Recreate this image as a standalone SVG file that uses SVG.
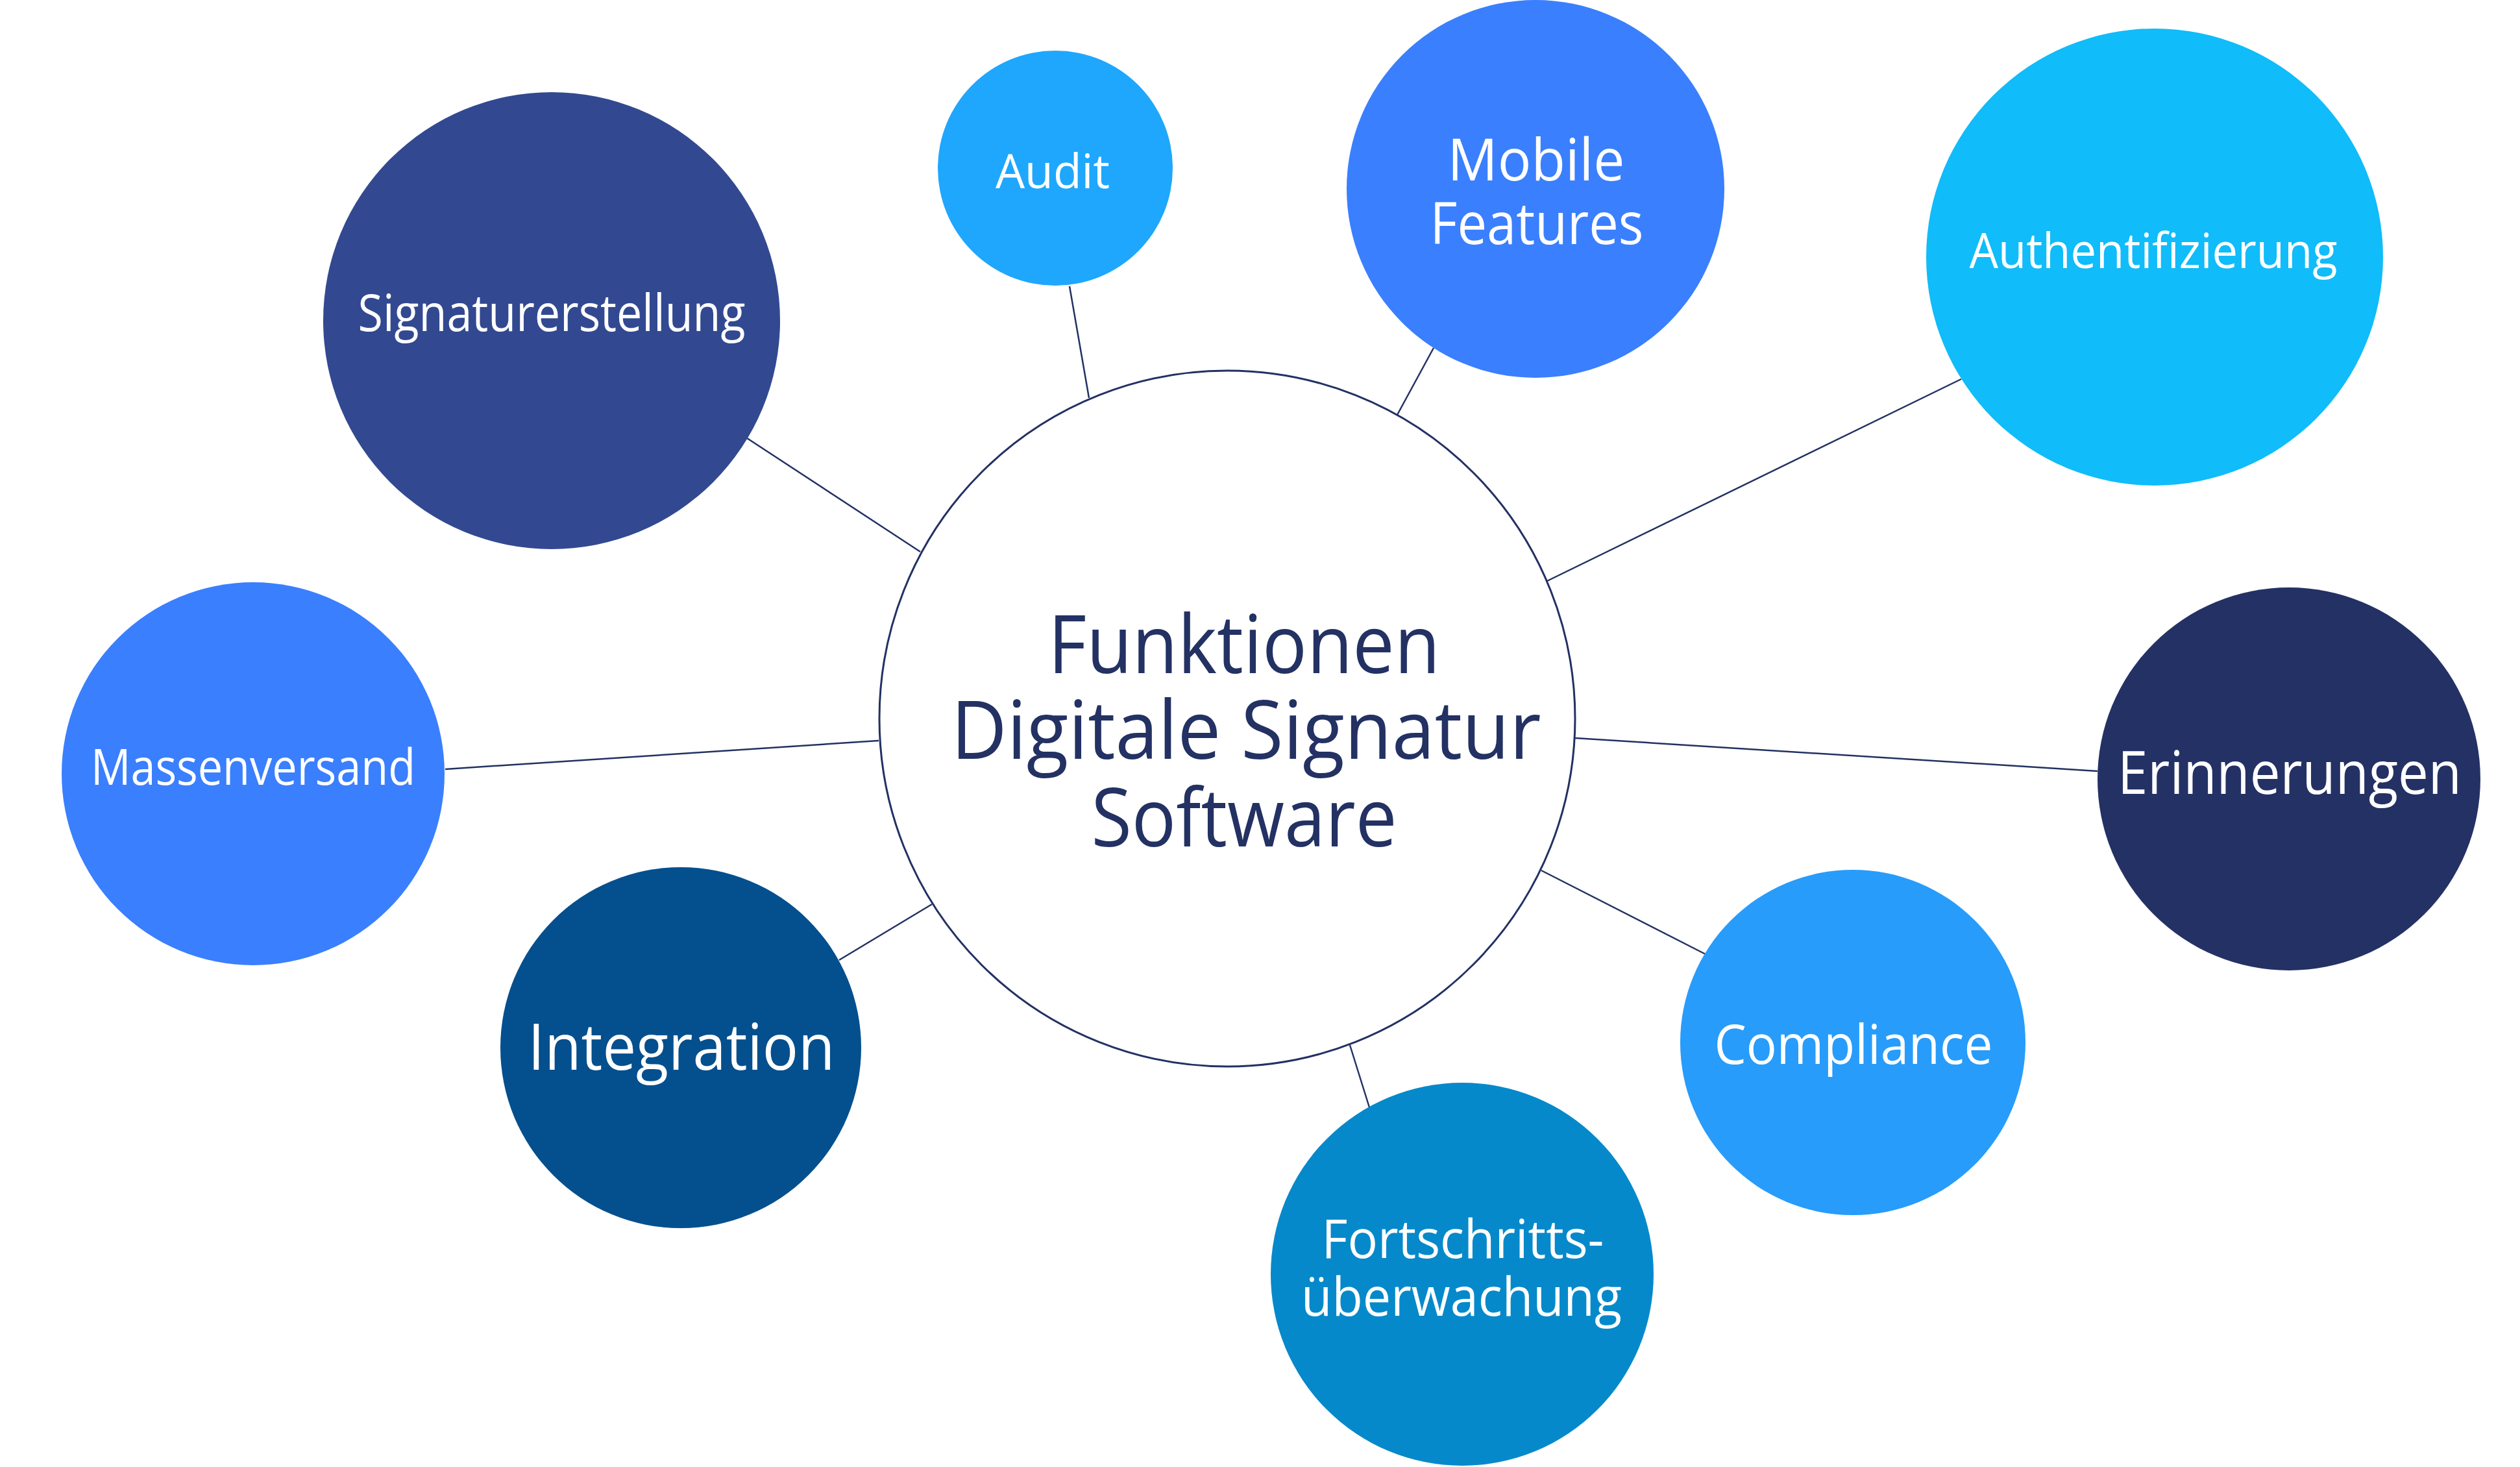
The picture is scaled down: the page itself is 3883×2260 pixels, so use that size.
<svg xmlns="http://www.w3.org/2000/svg" width="3883" height="2260" viewBox="0 0 3883 2260">
<style>
.lbl{font-family:"Open Sans","Noto Sans",sans-serif;fill:#ffffff;text-anchor:middle}
.main{font-family:"Open Sans","Noto Sans",sans-serif;fill:#233163;text-anchor:middle}
.conn line{stroke:#233163;stroke-width:2.5}
</style>
<rect width="3883" height="2260" fill="#ffffff"/>
<g id="connectors" class="conn">
<line x1="1418" y1="850" x2="1151" y2="675"/>
<line x1="1678" y1="613" x2="1648" y2="441"/>
<line x1="2153" y1="639" x2="2209" y2="536"/>
<line x1="2384" y1="895" x2="3022" y2="584"/>
<line x1="1354" y1="1141" x2="686" y2="1185"/>
<line x1="2427" y1="1137" x2="3232" y2="1188"/>
<line x1="1436" y1="1393" x2="1293" y2="1479"/>
<line x1="2375" y1="1341" x2="2628" y2="1470"/>
<line x1="2080" y1="1610" x2="2110" y2="1706"/>
</g>
<g id="center">
<circle cx="1891" cy="1107" r="536" fill="#ffffff" stroke="#233163" stroke-width="3"/>
<text class="main" font-size="125" x="1917" y="1037" textLength="604" lengthAdjust="spacingAndGlyphs">Funktionen</text>
<text class="main" font-size="125" x="1920" y="1169" textLength="909" lengthAdjust="spacingAndGlyphs">Digitale Signatur</text>
<text class="main" font-size="125" x="1917" y="1304" textLength="471" lengthAdjust="spacingAndGlyphs">Software</text>
</g>
<g id="signaturerstellung">
<circle cx="850" cy="494" r="352" fill="#324991"/>
<text class="lbl" font-size="78" x="850" y="510" textLength="597" lengthAdjust="spacingAndGlyphs">Signaturerstellung</text>
</g>
<g id="audit">
<circle cx="1626" cy="259" r="181" fill="#1ea7fd"/>
<text class="lbl" font-size="73" x="1622" y="290" textLength="176" lengthAdjust="spacingAndGlyphs">Audit</text>
</g>
<g id="mobile">
<circle cx="2366" cy="291" r="291" fill="#3a7ffe"/>
<text class="lbl" font-size="90" x="2367" y="278" textLength="273" lengthAdjust="spacingAndGlyphs">Mobile</text>
<text class="lbl" font-size="90" x="2368" y="376" textLength="329" lengthAdjust="spacingAndGlyphs">Features</text>
</g>
<g id="authentifizierung">
<circle cx="3320" cy="396" r="352" fill="#10bcf9"/>
<text class="lbl" font-size="75" x="3318" y="413" textLength="567" lengthAdjust="spacingAndGlyphs">Authentifizierung</text>
</g>
<g id="massenversand">
<circle cx="390" cy="1192" r="295" fill="#3a7ffe"/>
<text class="lbl" font-size="76" x="390" y="1209" textLength="500" lengthAdjust="spacingAndGlyphs">Massenversand</text>
</g>
<g id="erinnerungen">
<circle cx="3527" cy="1200" r="295" fill="#243164"/>
<text class="lbl" font-size="92" x="3528" y="1223" textLength="530" lengthAdjust="spacingAndGlyphs">Erinnerungen</text>
</g>
<g id="integration">
<circle cx="1049" cy="1614" r="278" fill="#044f8e"/>
<text class="lbl" font-size="98" x="1050" y="1648" textLength="473" lengthAdjust="spacingAndGlyphs">Integration</text>
</g>
<g id="compliance">
<circle cx="2855" cy="1606" r="266" fill="#279cfb"/>
<text class="lbl" font-size="84" x="2856" y="1639" textLength="429" lengthAdjust="spacingAndGlyphs">Compliance</text>
</g>
<g id="fortschritt">
<circle cx="2253" cy="1963" r="295" fill="#0689ca"/>
<text class="lbl" font-size="83" x="2254" y="1938" textLength="435" lengthAdjust="spacingAndGlyphs">Fortschritts-</text>
<text class="lbl" font-size="83" x="2252" y="2027" textLength="494" lengthAdjust="spacingAndGlyphs">überwachung</text>
</g>
</svg>
